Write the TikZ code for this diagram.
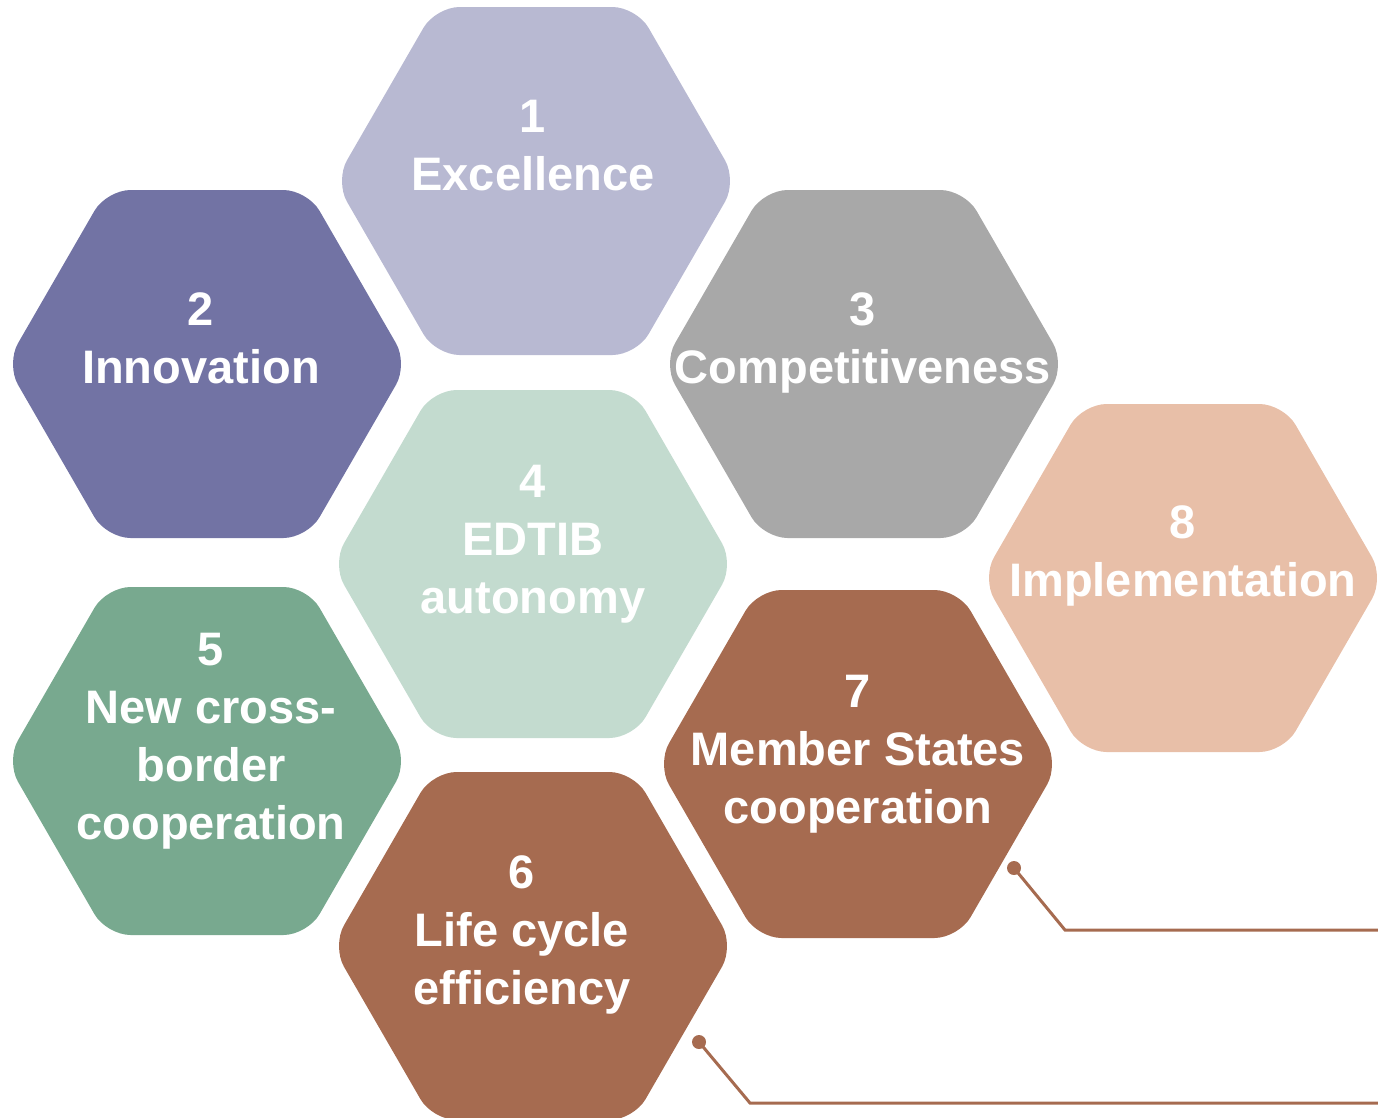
\documentclass[tikz,border=0pt]{standalone}
\usepackage{fontspec}
\setmainfont{Liberation Sans}
\usepackage{tikz}
\definecolor{excel}{HTML}{B8B9D2}
\definecolor{innov}{HTML}{7273A4}
\definecolor{compet}{HTML}{A8A8A8}
\definecolor{edtib}{HTML}{C3DBCF}
\definecolor{crossb}{HTML}{78A98F}
\definecolor{cycle}{HTML}{A66B50}
\definecolor{implem}{HTML}{E8BFA8}
\tikzset{hexa/.style={rounded corners=24pt},
	hexlabel/.style={text=white,align=center,inner sep=0pt,anchor=north,
		font=\bfseries\fontsize{47}{58}\selectfont},
	lead/.style={draw=cycle,line width=3pt,line join=miter},
	x=1pt,y=-1pt}

\begin{document}
\begin{tikzpicture}
	[every node/.style={hexlabel}]
	\useasboundingbox (0,0) rectangle (1378,1117);
	% hexagons: number / centre / colour
	\foreach \n/\cx/\cy/\col in {1/536/181/excel,2/207/364/innov,3/864/364/compet,
			4/533/564/edtib,5/207/761/crossb,6/533/946/cycle,7/858/764/cycle,8/1183/578/implem}
		{
			\coordinate (hex\n) at (\cx,\cy);
			\fill[hexa,\col] (\cx,\cy-174) -- (\cx+100.5,\cy-174) -- (\cx+201,\cy)
				-- (\cx+100.5,\cy+174) -- (\cx-100.5,\cy+174) -- (\cx-201,\cy)
				-- (\cx-100.5,\cy-174) -- cycle;
		}
	% labels
	\node (excellence) at (533,100) {1\\Excellence};
	\node (innovation) at (201,292) {2\\Innovation};
	\node (competitiveness) at (863,292) {3\\Competitiveness};
	\node (autonomy) at (533,465) {4\\EDTIB\\autonomy};
	\node (crossborder) at (211,633) {5\\New cross-\\border\\cooperation};
	\node (lifecycle) at (522,855) {6\\Life cycle\\efficiency};
	\node (memberstates) at (858,675) {7\\Member States\\cooperation};
	\node (implementation) at (1183,505) {8\\Implementation};
	% leader lines
	\coordinate (dot7) at (1014,868);
	\coordinate (bend7) at (1065,930);
	\coordinate (end7) at (1378,930);
	\coordinate (dot6) at (699,1042);
	\coordinate (bend6) at (750,1103);
	\coordinate (end6) at (1378,1103);
	\draw[lead] (dot7) -- (bend7) -- (end7);
	\draw[lead] (dot6) -- (bend6) -- (end6);
	\fill[cycle] (dot7) circle (7);
	\fill[cycle] (dot6) circle (7);
\end{tikzpicture}
\end{document}
